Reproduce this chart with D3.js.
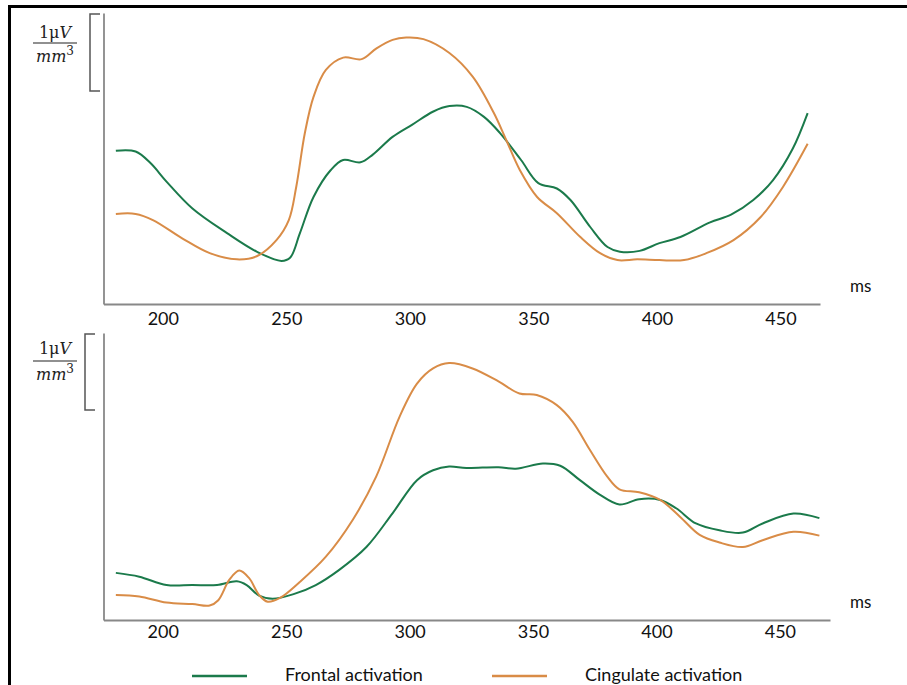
<!DOCTYPE html>
<html>
<head>
<meta charset="utf-8">
<script src="https://cdn.jsdelivr.net/npm/d3@7"></script>
<style>
  body { margin: 0; background: #fff; }
  svg { display: block; }
  .tick-lbl text { font-family: Lato, "Noto Sans", sans-serif; font-size: 18px; fill: #111; }
</style>
</head>
<body>
<div id="chart"></div>
<script>
// Time points (ms) and amplitudes (in units of 1 µV/mm³)
const topFrontalT = [181, 189, 195, 201.5, 212, 226, 238, 248, 251.5, 255.5, 261, 268, 273, 280, 285, 293, 301, 309.5, 316, 323, 330, 336.5, 345, 352, 359.5, 365, 373, 380, 385, 393, 401, 409.5, 421.5, 430, 439, 447, 455, 461];
const topFrontalV = [1.99, 1.98, 1.83, 1.59, 1.24, 0.92, 0.68, 0.56, 0.60, 0.92, 1.39, 1.74, 1.87, 1.84, 1.94, 2.17, 2.33, 2.50, 2.57, 2.56, 2.43, 2.22, 1.87, 1.57, 1.50, 1.35, 1.00, 0.74, 0.68, 0.69, 0.79, 0.87, 1.06, 1.16, 1.35, 1.61, 2.02, 2.48];

const topCingulateT = [181, 189, 196, 208, 219, 230, 238, 246, 251, 254, 257.5, 261, 266, 273, 280.5, 286.5, 293, 298.5, 305.5, 316, 325.5, 334, 339, 344.5, 351.5, 359.5, 369, 377, 384, 392, 401, 411, 420, 431, 442, 451, 461];
const topCingulateV = [1.17, 1.17, 1.09, 0.85, 0.66, 0.58, 0.62, 0.83, 1.09, 1.52, 2.22, 2.69, 3.04, 3.20, 3.18, 3.32, 3.43, 3.46, 3.44, 3.26, 2.95, 2.48, 2.13, 1.74, 1.39, 1.18, 0.87, 0.66, 0.57, 0.58, 0.57, 0.57, 0.66, 0.83, 1.13, 1.52, 2.08];

const botFrontalT = [181, 190.5, 201.5, 212, 222, 230, 234, 239, 244.5, 253, 262, 271.5, 282.5, 293, 303, 309.5, 316, 323, 336, 343, 354, 361, 369, 377, 385, 393, 401.5, 408, 416, 425.5, 435, 443, 455.5, 466];
const botFrontalV = [0.62, 0.57, 0.46, 0.46, 0.46, 0.51, 0.46, 0.32, 0.28, 0.34, 0.46, 0.66, 0.96, 1.40, 1.84, 1.97, 2.02, 2.00, 2.01, 1.99, 2.06, 2.03, 1.84, 1.65, 1.52, 1.59, 1.58, 1.47, 1.27, 1.18, 1.15, 1.27, 1.40, 1.34];

const botCingulateT = [181, 190.5, 201.5, 212, 219, 222.5, 227, 231, 235, 239, 242.5, 247.5, 255.5, 266, 277, 286.5, 296, 303, 309.5, 316, 325.5, 336, 344.5, 351.5, 359.5, 366, 373, 380, 385, 393, 401.5, 409.5, 417.5, 425.5, 435, 443, 455.5, 466];
const botCingulateV = [0.33, 0.31, 0.23, 0.21, 0.19, 0.26, 0.53, 0.65, 0.55, 0.33, 0.24, 0.29, 0.50, 0.83, 1.32, 1.89, 2.68, 3.11, 3.31, 3.38, 3.31, 3.14, 2.98, 2.96, 2.83, 2.61, 2.24, 1.89, 1.72, 1.68, 1.58, 1.36, 1.12, 1.02, 0.96, 1.05, 1.16, 1.11];

const tickValues = [200, 250, 300, 350, 400, 450];
const seriesNames = ['Frontal activation', 'Cingulate activation'];
const colors = { frontal: '#1b7a4b', cingulate: '#d98c47' };

const W = 907, H = 685;
const svg = d3.select('#chart').append('svg').attr('width', W).attr('height', H);

// outer frame (top + left edges only visible)
svg.append('line').attr('x1', 8).attr('x2', W).attr('y1', 6.5).attr('y2', 6.5)
    .attr('stroke', '#000').attr('stroke-width', 3);
svg.append('line').attr('x1', 9.5).attr('x2', 9.5).attr('y1', 5).attr('y2', H)
    .attr('stroke', '#000').attr('stroke-width', 3);

const zip = (t, v) => t.map((d, i) => ({ t: d, v: v[i] }));

function panel(opts) {
    const x = d3.scaleLinear().domain([176, opts.xEnd]).range([103.5, opts.right]);
    const y = d3.scaleLinear().domain([0, opts.yMax]).range([opts.bottom, opts.top]);
    const g = svg.append('g');

    // x axis
    const xa = g.append('g').attr('class', 'tick-lbl')
        .attr('transform', `translate(0,${opts.bottom})`)
        .call(d3.axisBottom(x).tickValues(tickValues).tickSize(0).tickSizeOuter(0).tickPadding(opts.pad));
    xa.select('.domain').attr('stroke', '#888').attr('stroke-width', 1.8);

    // y axis (no ticks)
    const ya = g.append('g').attr('transform', `translate(${x.range()[0]},0)`)
        .call(d3.axisLeft(y).tickValues([]).tickSizeOuter(0));
    ya.select('.domain').attr('stroke', '#888').attr('stroke-width', 1.8);

    g.append('text').attr('x', 850).attr('y', opts.bottom - 12)
        .attr('font-family', 'Lato, sans-serif').attr('font-size', 17).attr('fill', '#111')
        .text('ms');

    // scale bar bracket: 1 µV/mm³
    const bx = opts.bracketX;
    const b0 = y(opts.yMax) + 1, b1 = y(opts.yMax - 1) + 1;
    g.append('path')
        .attr('d', `M${bx + 10},${b0}H${bx}V${b1}H${bx + 10}`)
        .attr('fill', 'none').attr('stroke', '#555').attr('stroke-width', 1.5);

    const lab = g.append('g').attr('font-family', '"DejaVu Serif", serif').attr('font-size', 16).attr('fill', '#222');
    const num = lab.append('text').attr('x', 55).attr('y', b0 + opts.numDy).attr('text-anchor', 'middle');
    num.append('tspan').text('1μ');
    num.append('tspan').attr('font-style', 'italic').text('V');
    lab.append('line').attr('x1', 33).attr('x2', 77).attr('y1', b0 + opts.barDy).attr('y2', b0 + opts.barDy)
        .attr('stroke', '#222').attr('stroke-width', 1.2);
    const den = lab.append('text').attr('x', 55).attr('y', b0 + opts.denDy).attr('text-anchor', 'middle')
        .attr('font-style', 'italic');
    den.append('tspan').text('mm');
    den.append('tspan').attr('font-size', 12).attr('dy', -7).attr('font-style', 'normal').text('3');

    const line = d3.line().x(d => x(d.t)).y(d => y(d.v)).curve(d3.curveCatmullRom.alpha(0.5));
    g.append('path').datum(zip(opts.frontal[0], opts.frontal[1]))
        .attr('d', line).attr('fill', 'none').attr('stroke', colors.frontal).attr('stroke-width', 2);
    g.append('path').datum(zip(opts.cingulate[0], opts.cingulate[1]))
        .attr('d', line).attr('fill', 'none').attr('stroke', colors.cingulate).attr('stroke-width', 2);
}

panel({
    top: 13, bottom: 304, yMax: (304 - 13) / 77, xEnd: 466, right: 820, pad: 8.2,
    bracketX: 90, numDy: 24, barDy: 29, denDy: 48,
    frontal: [topFrontalT, topFrontalV], cingulate: [topCingulateT, topCingulateV]
});
panel({
    top: 333, bottom: 620, yMax: (620 - 333) / 76, xEnd: 470.3, right: 830, pad: 5.2,
    bracketX: 85, numDy: 20, barDy: 27, denDy: 46,
    frontal: [botFrontalT, botFrontalV], cingulate: [botCingulateT, botCingulateV]
});

// legend
const legend = svg.append('g').attr('font-family', 'Lato, sans-serif').attr('font-size', 18).attr('fill', '#111');
const legendItems = [
    { name: seriesNames[0], color: colors.frontal, x0: 192, tx: 285 },
    { name: seriesNames[1], color: colors.cingulate, x0: 492, tx: 585 }
];
legendItems.forEach(d => {
    legend.append('line').attr('x1', d.x0).attr('x2', d.x0 + 55).attr('y1', 676).attr('y2', 676)
        .attr('stroke', d.color).attr('stroke-width', 2.5);
    legend.append('text').attr('x', d.tx).attr('y', 681).text(d.name);
});
</script>
</body>
</html>
